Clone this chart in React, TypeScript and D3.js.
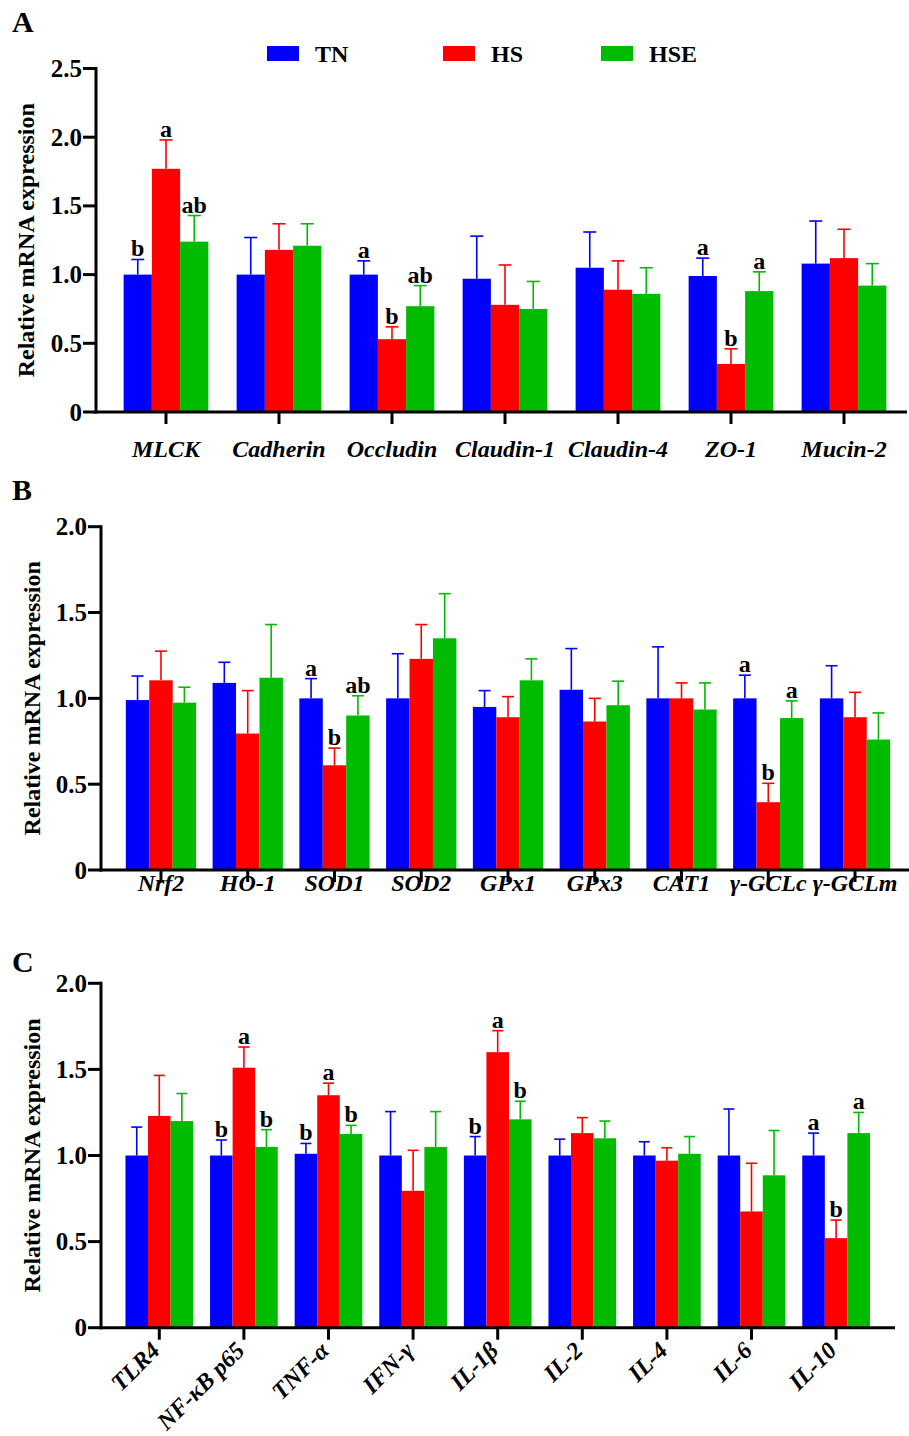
import React from 'react';
import * as d3 from 'd3';

const groups = ['TN', 'HS', 'HSE'];
const colors = ['#0000ff', '#ff0000', '#00bb00'];
const FONT = '"Liberation Serif", "Times New Roman", serif';

// Panel A - tight junction genes
const genesA = ['MLCK', 'Cadherin', 'Occludin', 'Claudin-1', 'Claudin-4', 'ZO-1', 'Mucin-2'];
const tnA = [1.0, 1.0, 1.0, 0.97, 1.05, 0.99, 1.08];
const hsA = [1.77, 1.18, 0.53, 0.78, 0.89, 0.35, 1.12];
const hseA = [1.24, 1.21, 0.77, 0.75, 0.86, 0.88, 0.92];
const tnSdA = [0.11, 0.27, 0.1, 0.31, 0.26, 0.13, 0.31];
const hsSdA = [0.21, 0.19, 0.09, 0.29, 0.21, 0.11, 0.21];
const hseSdA = [0.19, 0.16, 0.15, 0.2, 0.19, 0.14, 0.16];
const lettersA = [['b', 'a', 'ab'], [], ['a', 'b', 'ab'], [], [], ['a', 'b', 'a'], []];
const ticksA = [0, 0.5, 1.0, 1.5, 2.0, 2.5];

// Panel B - antioxidant genes
const genesB = ['Nrf2', 'HO-1', 'SOD1', 'SOD2', 'GPx1', 'GPx3', 'CAT1', 'γ-GCLc', 'γ-GCLm'];
const tnB = [0.99, 1.09, 1.0, 1.0, 0.95, 1.05, 1.0, 1.0, 1.0];
const hsB = [1.105, 0.795, 0.61, 1.23, 0.89, 0.865, 1.0, 0.395, 0.89];
const hseB = [0.975, 1.12, 0.9, 1.35, 1.105, 0.96, 0.935, 0.885, 0.76];
const tnSdB = [0.14, 0.12, 0.115, 0.26, 0.095, 0.24, 0.3, 0.135, 0.19];
const hsSdB = [0.17, 0.25, 0.1, 0.2, 0.12, 0.135, 0.09, 0.11, 0.145];
const hseSdB = [0.09, 0.31, 0.115, 0.26, 0.125, 0.14, 0.155, 0.1, 0.155];
const lettersB = [[], [], ['a', 'b', 'ab'], [], [], [], [], ['a', 'b', 'a'], []];
const ticksB = [0, 0.5, 1.0, 1.5, 2.0];

// Panel C - inflammatory genes
const genesC = ['TLR4', 'NF-κB p65', 'TNF-α', 'IFN-γ', 'IL-1β', 'IL-2', 'IL-4', 'IL-6', 'IL-10'];
const tnC = [1.0, 1.0, 1.01, 1.0, 1.0, 1.0, 1.0, 1.0, 1.0];
const hsC = [1.23, 1.51, 1.35, 0.795, 1.6, 1.13, 0.97, 0.675, 0.52];
const hseC = [1.2, 1.05, 1.125, 1.05, 1.21, 1.1, 1.01, 0.885, 1.13];
const tnSdC = [0.165, 0.09, 0.06, 0.255, 0.11, 0.095, 0.08, 0.27, 0.13];
const hsSdC = [0.235, 0.12, 0.07, 0.235, 0.125, 0.09, 0.075, 0.28, 0.105];
const hseSdC = [0.16, 0.1, 0.05, 0.205, 0.105, 0.1, 0.1, 0.26, 0.12];
const lettersC = [[], ['b', 'a', 'b'], ['b', 'a', 'b'], [], ['b', 'a', 'b'], [], [], [], ['a', 'b', 'a']];
const ticksC = [0, 0.5, 1.0, 1.5, 2.0];

interface PanelProps {
  tag: string;
  tagY: number;
  categories: string[];
  means: number[][];
  sds: number[][];
  letters: string[][];
  ticks: number[];
  axisX: number;
  y0: number;
  yTop: number;
  xRange: [number, number];
  pad: number;
  axisEnd: number;
  capHalf: number;
  rotate?: boolean;
  labelY: number;
  titleX: number;
}

const Panel: React.FC<PanelProps> = (p) => {
  const yMax = p.ticks[p.ticks.length - 1];
  const x = d3.scaleBand<string>().domain(p.categories).range(p.xRange)
    .paddingInner(p.pad).paddingOuter(p.pad / 2);
  const sub = d3.scaleBand<string>().domain(groups).range([0, x.bandwidth()]);
  const y = d3.scaleLinear().domain([0, yMax]).range([p.y0, p.yTop]);
  const fmt = (d: number) => (d === 0 ? '0' : d3.format('.1f')(d));

  return (
    <g fontFamily={FONT} fontWeight="bold">
      <text x={12} y={p.tagY} fontSize={30}>{p.tag}</text>
      {/* bars + error bars */}
      {p.categories.map((c, i) => (
        <g key={c}>
          {groups.map((g, k) => {
            const m = p.means[k][i];
            const top = m + p.sds[k][i];
            const bx = x(c)! + sub(g)!;
            const cx = bx + sub.bandwidth() / 2;
            const letter = p.letters[i][k];
            return (
              <g key={g}>
                <line x1={cx} x2={cx} y1={y(m)} y2={y(top)} stroke={colors[k]} strokeWidth={1.6} />
                <line x1={cx - p.capHalf} x2={cx + p.capHalf} y1={y(top)} y2={y(top)} stroke={colors[k]} strokeWidth={1.6} />
                <rect x={bx} y={y(m)} width={sub.bandwidth()} height={p.y0 - y(m)} fill={colors[k]} />
                {letter && (
                  <text x={cx} y={y(top) - 3} textAnchor="middle" fontSize={24}>{letter}</text>
                )}
              </g>
            );
          })}
        </g>
      ))}
      {/* y axis */}
      <line x1={p.axisX} x2={p.axisX} y1={p.yTop - 1.5} y2={p.y0 + 1.5} stroke="#000" strokeWidth={3} />
      {p.ticks.map((t) => (
        <g key={t}>
          <line x1={p.axisX - 13} x2={p.axisX} y1={y(t)} y2={y(t)} stroke="#000" strokeWidth={3} />
          <text x={p.axisX - 14} y={y(t)} dy="0.34em" textAnchor="end" fontSize={25}>{fmt(t)}</text>
        </g>
      ))}
      <text
        transform={`translate(${p.titleX},${(p.y0 + p.yTop) / 2}) rotate(-90)`}
        textAnchor="middle"
        fontSize={24}
      >
        Relative mRNA expression
      </text>
      {/* x axis */}
      <line x1={p.axisX - 1.5} x2={p.axisEnd} y1={p.y0} y2={p.y0} stroke="#000" strokeWidth={3} />
      {p.categories.map((c) => {
        const cx = x(c)! + x.bandwidth() / 2;
        return (
          <g key={c}>
            <line x1={cx} x2={cx} y1={p.y0} y2={p.y0 + 12} stroke="#000" strokeWidth={3} />
            {p.rotate ? (
              <text
                transform={`translate(${cx + 2},${p.labelY}) rotate(-45)`}
                textAnchor="end"
                fontSize={24}
                fontStyle="italic"
              >
                {c}
              </text>
            ) : (
              <text x={cx} y={p.labelY} textAnchor="middle" fontSize={24} fontStyle="italic">{c}</text>
            )}
          </g>
        );
      })}
    </g>
  );
};

const legendX = [267, 443, 601];

const App: React.FC = () => {
  return (
    <svg width={909} height={1436} viewBox="0 0 909 1436"
      style={{ position: 'absolute', left: 0, top: 0, background: '#fff' }}>
      <rect width={909} height={1436} fill="#fff" />
      {/* legend */}
      <g fontFamily={FONT} fontWeight="bold">
        {groups.map((g, k) => (
          <g key={g}>
            <rect x={legendX[k]} y={46} width={32} height={15} fill={colors[k]} />
            <text x={legendX[k] + 48} y={62} fontSize={24}>{g}</text>
          </g>
        ))}
      </g>
      <Panel
        tag="A" tagY={32}
        categories={genesA}
        means={[tnA, hsA, hseA]}
        sds={[tnSdA, hsSdA, hseSdA]}
        letters={lettersA}
        ticks={ticksA}
        axisX={96} y0={412} yTop={68.5}
        xRange={[109.5, 900.5]} pad={0.25}
        axisEnd={907} capHalf={6.5}
        labelY={457} titleX={34}
      />
      <Panel
        tag="B" tagY={500}
        categories={genesB}
        means={[tnB, hsB, hseB]}
        sds={[tnSdB, hsSdB, hseSdB]}
        letters={lettersB}
        ticks={ticksB}
        axisX={101} y0={870} yTop={526.7}
        xRange={[117.6, 898.4]} pad={0.19}
        axisEnd={909} capHalf={6}
        labelY={891} titleX={40}
      />
      <Panel
        tag="C" tagY={972}
        categories={genesC}
        means={[tnC, hsC, hseC]}
        sds={[tnSdC, hsSdC, hseSdC]}
        letters={lettersC}
        ticks={ticksC}
        axisX={101} y0={1327.7} yTop={983.3}
        xRange={[117, 878.4]} pad={0.2}
        axisEnd={895} capHalf={5.5}
        rotate labelY={1352} titleX={40}
      />
    </svg>
  );
};

export default App;
